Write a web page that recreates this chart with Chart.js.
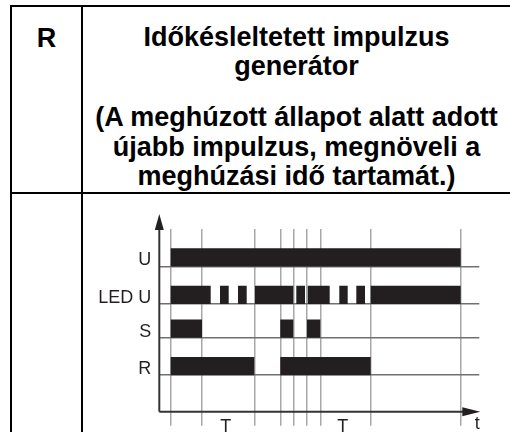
<!DOCTYPE html>
<html>
<head>
<meta charset="utf-8">
<script src="https://cdn.jsdelivr.net/npm/chart.js@4"></script>
<style>
  body { margin: 0; background: #fff; }
  #page { position: relative; width: 510px; height: 432px; overflow: hidden;
          font-family: "Liberation Sans", Arial, sans-serif; color: #000; }
  .rule { position: absolute; background: #000; }
  .cell { position: absolute; font-weight: bold; font-size: 27px; text-align: center; white-space: nowrap; }
  #wrap { position: absolute; left: 83px; top: 194px; width: 427px; height: 238px; }
</style>
</head>
<body>
<div id="page">
  <div class="rule" style="left:10px;top:5px;width:500px;height:2px"></div>
  <div class="rule" style="left:10px;top:5px;width:2px;height:427px"></div>
  <div class="rule" style="left:81px;top:5px;width:2px;height:427px"></div>
  <div class="rule" style="left:10px;top:192px;width:500px;height:2px"></div>
  <div class="cell" style="left:12px;width:69px;top:23px;line-height:30px">R</div>
  <div class="cell" style="left:83px;width:427px;top:22.5px;line-height:29px">Időkésleltetett impulzus<br>generátor</div>
  <div class="cell" style="left:83px;width:427px;top:103px;line-height:29.5px">(A meghúzott állapot alatt adott<br>újabb impulzus, megnöveli a<br>meghúzási idő tartamát.)</div>
  <div id="wrap"><canvas id="timing"></canvas></div>
</div>
<script>
// signal rows, top to bottom
const rows = ['U', 'LED U', 'S', 'R'];
const rowLevels = [7.95, 5.9, 4.05, 2.0];

// on-intervals [start, end] for each signal
const uOn = [[11.4, 301.4]];
const ledOn = [[11.4, 51.4], [60.7, 69.4], [78.7, 87.4], [95.7, 134], [137, 145.7],
               [148.4, 170.4], [180, 188.4], [197, 205.7], [211.4, 301.4]];
const sOn = [[11.4, 42.7], [121, 134], [147.7, 161]];
const rOn = [[11.4, 95], [121, 211.4]];

// vertical time markers and the period labels under the axis
const timeMarks = [11.4, 42.7, 95, 121, 134, 147.7, 161, 211.4, 301.4];
const periodPos = [66.4, 183.4];
const periodLabels = ['T', 'T'];

const ink = '#231f20';
Chart.defaults.font.family = '"Liberation Sans", Arial, sans-serif';

const signals = [uOn, ledOn, sOn, rOn];

function toSteps(segments, base) {
  const pts = [{ x: 0, y: base }];
  segments.forEach(([a, b]) => {
    pts.push({ x: a, y: base + 1 });
    pts.push({ x: b, y: base });
  });
  pts.push({ x: 320, y: base });
  return pts;
}

const axesArrows = {
  id: 'axesArrows',
  afterDraw(chart) {
    const { ctx, chartArea: a } = chart;
    ctx.save();
    ctx.strokeStyle = '#333';
    ctx.fillStyle = ink;
    ctx.lineWidth = 2;
    // y axis
    ctx.beginPath();
    ctx.moveTo(a.left, a.bottom);
    ctx.lineTo(a.left, a.top - 2);
    ctx.stroke();
    ctx.beginPath();
    ctx.moveTo(a.left, a.top - 15);
    ctx.lineTo(a.left - 4.5, a.top + 1);
    ctx.lineTo(a.left + 4.5, a.top + 1);
    ctx.closePath();
    ctx.fill();
    // x axis
    ctx.beginPath();
    ctx.moveTo(a.left, a.bottom);
    ctx.lineTo(a.right - 10, a.bottom);
    ctx.stroke();
    ctx.beginPath();
    ctx.moveTo(a.right + 1, a.bottom);
    ctx.lineTo(a.right - 17, a.bottom - 4.5);
    ctx.lineTo(a.right - 17, a.bottom + 4.5);
    ctx.closePath();
    ctx.fill();
    // time label
    ctx.font = '18px "Liberation Sans", Arial, sans-serif';
    ctx.textAlign = 'center';
    ctx.textBaseline = 'middle';
    ctx.fillText('t', a.right - 2, a.bottom + 12);
    ctx.restore();
  }
};

new Chart(document.getElementById('timing'), {
  type: 'line',
  data: {
    datasets: signals.map((seg, i) => ({
      label: rows[i],
      data: toSteps(seg, rowLevels[i]),
      stepped: true,
      borderWidth: 0,
      pointRadius: 0,
      backgroundColor: ink,
      fill: { value: rowLevels[i] }
    }))
  },
  options: {
    responsive: true,
    maintainAspectRatio: false,
    animation: false,
    layout: { padding: { top: 35, right: 30.7, left: 0, bottom: 0 } },
    plugins: { legend: { display: false }, tooltip: { enabled: false } },
    scales: {
      x: {
        type: 'linear', min: 0, max: 320, z: 1,
        afterBuildTicks: s => {
          s.ticks = timeMarks.concat(periodPos).sort((p, q) => p - q).map(v => ({ value: v }));
        },
        afterFit: s => { s.height = 20.3; },
        grid: {
          color: c => periodPos.includes(c.tick && c.tick.value) ? 'rgba(0,0,0,0)' : '#a8a8a8',
          lineWidth: 1.5,
          tickLength: 14
        },
        border: { display: false },
        ticks: {
          padding: -9, autoSkip: false, maxRotation: 0, color: ink, font: { size: 18 },
          callback: v => {
            const k = periodPos.indexOf(v);
            return k >= 0 ? periodLabels[k] : '';
          }
        }
      },
      y: {
        type: 'linear', min: 0, max: 10, z: 1,
        afterBuildTicks: s => { s.ticks = rowLevels.map(v => ({ value: v })); },
        afterFit: s => { s.width = 76.3; },
        grid: { color: '#707070', lineWidth: 1.5, drawTicks: false },
        border: { display: false },
        ticks: {
          padding: 8, labelOffset: -6, color: ink, font: { size: 18 },
          callback: v => rows[rowLevels.indexOf(v)]
        }
      }
    }
  },
  plugins: [axesArrows]
});
</script>
</body>
</html>
